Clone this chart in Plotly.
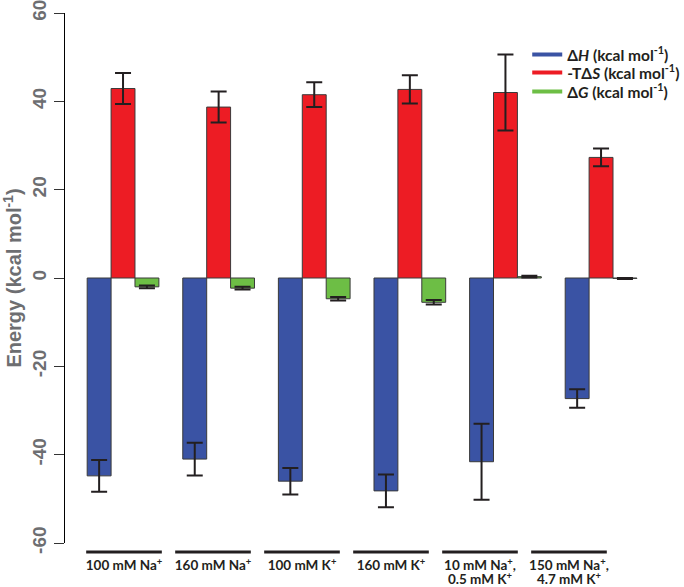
import plotly.graph_objects as go

cat_keys = ["c1", "c2", "c3", "c4", "c5", "c6"]
label_line1 = ["100 mM Na<sup>+</sup>", "160 mM Na<sup>+</sup>", "100 mM K<sup>+</sup>",
               "160 mM K<sup>+</sup>", "10 mM Na<sup>+</sup>,", "150 mM Na<sup>+</sup>,"]
label_line2 = ["", "", "", "", "0.5 mM K<sup>+</sup>", "4.7 mM K<sup>+</sup>"]

dH = [-44.8, -41.0, -46.0, -48.2, -41.6, -27.3]
dH_err = [3.6, 3.7, 3.0, 3.7, 8.6, 2.1]
TdS = [42.9, 38.7, 41.5, 42.7, 42.0, 27.3]
TdS_err = [3.5, 3.5, 2.8, 3.2, 8.6, 2.0]
dG = [-2.0, -2.3, -4.7, -5.5, 0.3, -0.1]
dG_err = [0.3, 0.3, 0.4, 0.5, 0.2, 0.1]

series_names = ["<b>Δ<i>H</i> (kcal mol<sup>-1</sup>)</b>",
                "<b>-TΔ<i>S</i> (kcal mol<sup>-1</sup>)</b>",
                "<b>Δ<i>G</i> (kcal mol<sup>-1</sup>)</b>"]
colors = ["#3A53A4", "#ED1C24", "#6DBE45"]

y_ticks = [-60, -40, -20, 0, 20, 40, 60]
y_ticktext = [str(v) for v in y_ticks]

ink = "#231F20"
gray = "#6d6e71"
fig = go.Figure()
for vals, errs, col in zip([dH, TdS, dG], [dH_err, TdS_err, dG_err], colors):
    fig.add_trace(go.Bar(
        x=cat_keys, y=vals,
        marker=dict(color=col, line=dict(color="#3a3a3a", width=1)),
        error_y=dict(type="data", array=errs, color=ink, thickness=2, width=8),
        showlegend=False,
    ))
legend_ids = ["legend", "legend2", "legend3"]
for name, col, lid in zip(series_names, colors, legend_ids):
    fig.add_trace(go.Scatter(x=[None], y=[None], mode="lines", name=name, legend=lid,
                             line=dict(color=col, width=4), xaxis="x2"))
fig.add_trace(go.Scatter(x=[None], y=[None], mode="lines", showlegend=False,
                         hoverinfo="skip", xaxis="x3"))

shapes = []
for i in range(len(label_line1)):
    shapes.append(dict(type="line", xref="x2", yref="paper", x0=i - 0.425, x1=i + 0.425,
                       y0=-0.017, y1=-0.017, line=dict(color=ink, width=3)))

lab_font = dict(family="Lato", size=13.5, color=ink, weight="bold")
label_axis = dict(overlaying="x", anchor="y", side="bottom", type="linear",
                  range=[-0.663, 6.18], ticks="outside", tickangle=0,
                  tickcolor="rgba(0,0,0,0)", showline=False, showgrid=False,
                  zeroline=False, automargin=False, tickfont=lab_font)

leg_common = dict(x=0.759, xanchor="left", yanchor="middle", bgcolor="rgba(0,0,0,0)",
                  font=dict(family="Lato", size=15.5, color=ink), itemwidth=30)

fig.update_layout(
    width=684, height=587,
    margin=dict(l=65, r=10, t=13, b=44, autoexpand=False),
    paper_bgcolor="white", plot_bgcolor="white",
    barmode="group", bargap=0.25, bargroupgap=0,
    shapes=shapes,
    xaxis=dict(type="category", range=[-0.607, 5.763], showticklabels=False,
               showline=False, showgrid=False, zeroline=False, ticks="",
               automargin=False),
    xaxis2=dict(label_axis, tickvals=list(range(len(label_line1))), ticktext=label_line1,
                ticklen=10),
    xaxis3=dict(label_axis, tickvals=[i for i, t in enumerate(label_line2) if t],
                ticktext=[t for t in label_line2 if t], ticklen=24),
    yaxis=dict(range=[-60, 60], tickvals=y_ticks, ticktext=y_ticktext, tickangle=-90,
               showline=True, linecolor="black", linewidth=1, ticks="outside",
               ticklen=10, tickwidth=1, tickcolor="#333", showgrid=False, zeroline=False,
               automargin=False, ticklabeloverflow="allow",
               tickfont=dict(family="Arial, Liberation Sans", size=19, color=gray, weight="bold"),
               title=dict(text="Energy (kcal mol<sup>-1</sup>)", standoff=14,
                          font=dict(family="Arial, Liberation Sans", size=20, color=gray, weight="bold"))),
    legend=dict(leg_common, y=0.9208),
    legend2=dict(leg_common, y=0.8868),
    legend3=dict(leg_common, y=0.8509),
)

fig.write_html("out.html", config={"displayModeBar": False},
               post_script="document.body.style.margin='0';document.body.style.overflow='hidden';")
